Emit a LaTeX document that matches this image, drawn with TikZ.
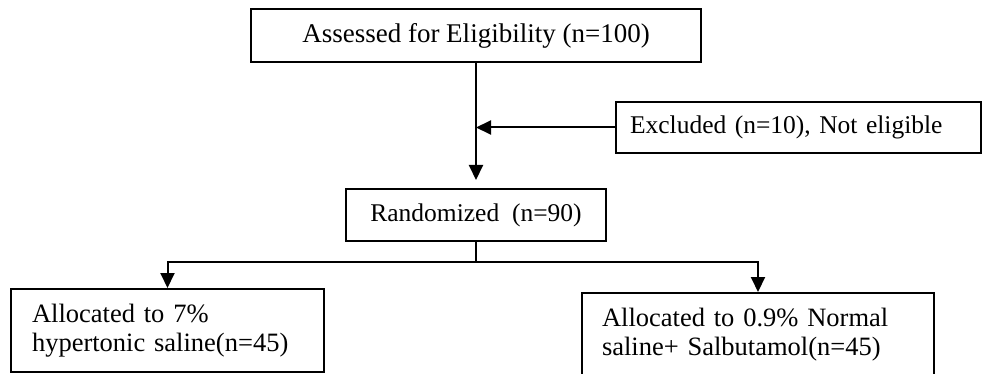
\documentclass[tikz,border=0pt]{standalone}
\usepackage{fontspec}
\setmainfont{Liberation Serif}
\usetikzlibrary{arrows.meta}
\begin{document}
\begin{tikzpicture}[x=1pt,y=-1pt,
  box/.style={draw, line width=2pt, rectangle, inner sep=0pt,
              font=\fontsize{25.5}{29}\selectfont},
  bigtext/.style={font=\fontsize{27}{30}\selectfont},
  alloc/.style={font=\fontsize{26.5}{29}\selectfont},
  flow/.style={line width=2pt, -{Triangle[length=15pt,width=14pt]}},
  link/.style={line width=2pt}]
\useasboundingbox (0,0) rectangle (982,374);

% boxes
\node[box, bigtext, minimum width=450pt, minimum height=53pt] (assess) at (476,35.5)
  {Assessed for Eligibility (n=100)};
\node[box, minimum width=365pt, minimum height=51pt, text width=337pt, align=left]
  (excl) at (798.5,127.5) {Excluded (n=10), Not eligible};
\node[box, minimum width=260pt, minimum height=52pt] (rand) at (476,215)
  {Randomized~~(n=90)};
\node[box, alloc, minimum width=313pt, minimum height=83pt, text width=271pt, align=left]
  (left) at (167.5,330.5) {Allocated to 7\%\\hypertonic saline(n=45)};
\node[box, alloc, minimum width=352pt, minimum height=84pt, text width=312pt, align=left]
  (right) at (758,335) {Allocated to 0.9\% Normal\\saline+ Salbutamol(n=45)};

% connectors
\draw[flow, shorten >=8pt] (assess.south) -- (assess.south |- rand.north);
\draw[flow] (excl.west) -- (excl.west -| assess.south);
\coordinate (bus) at (476,262);
\draw[link] (rand.south) -- (bus);
\draw[flow] (bus) -| (left.north);
\draw[flow] (bus) -| (right.north);
\end{tikzpicture}
\end{document}
